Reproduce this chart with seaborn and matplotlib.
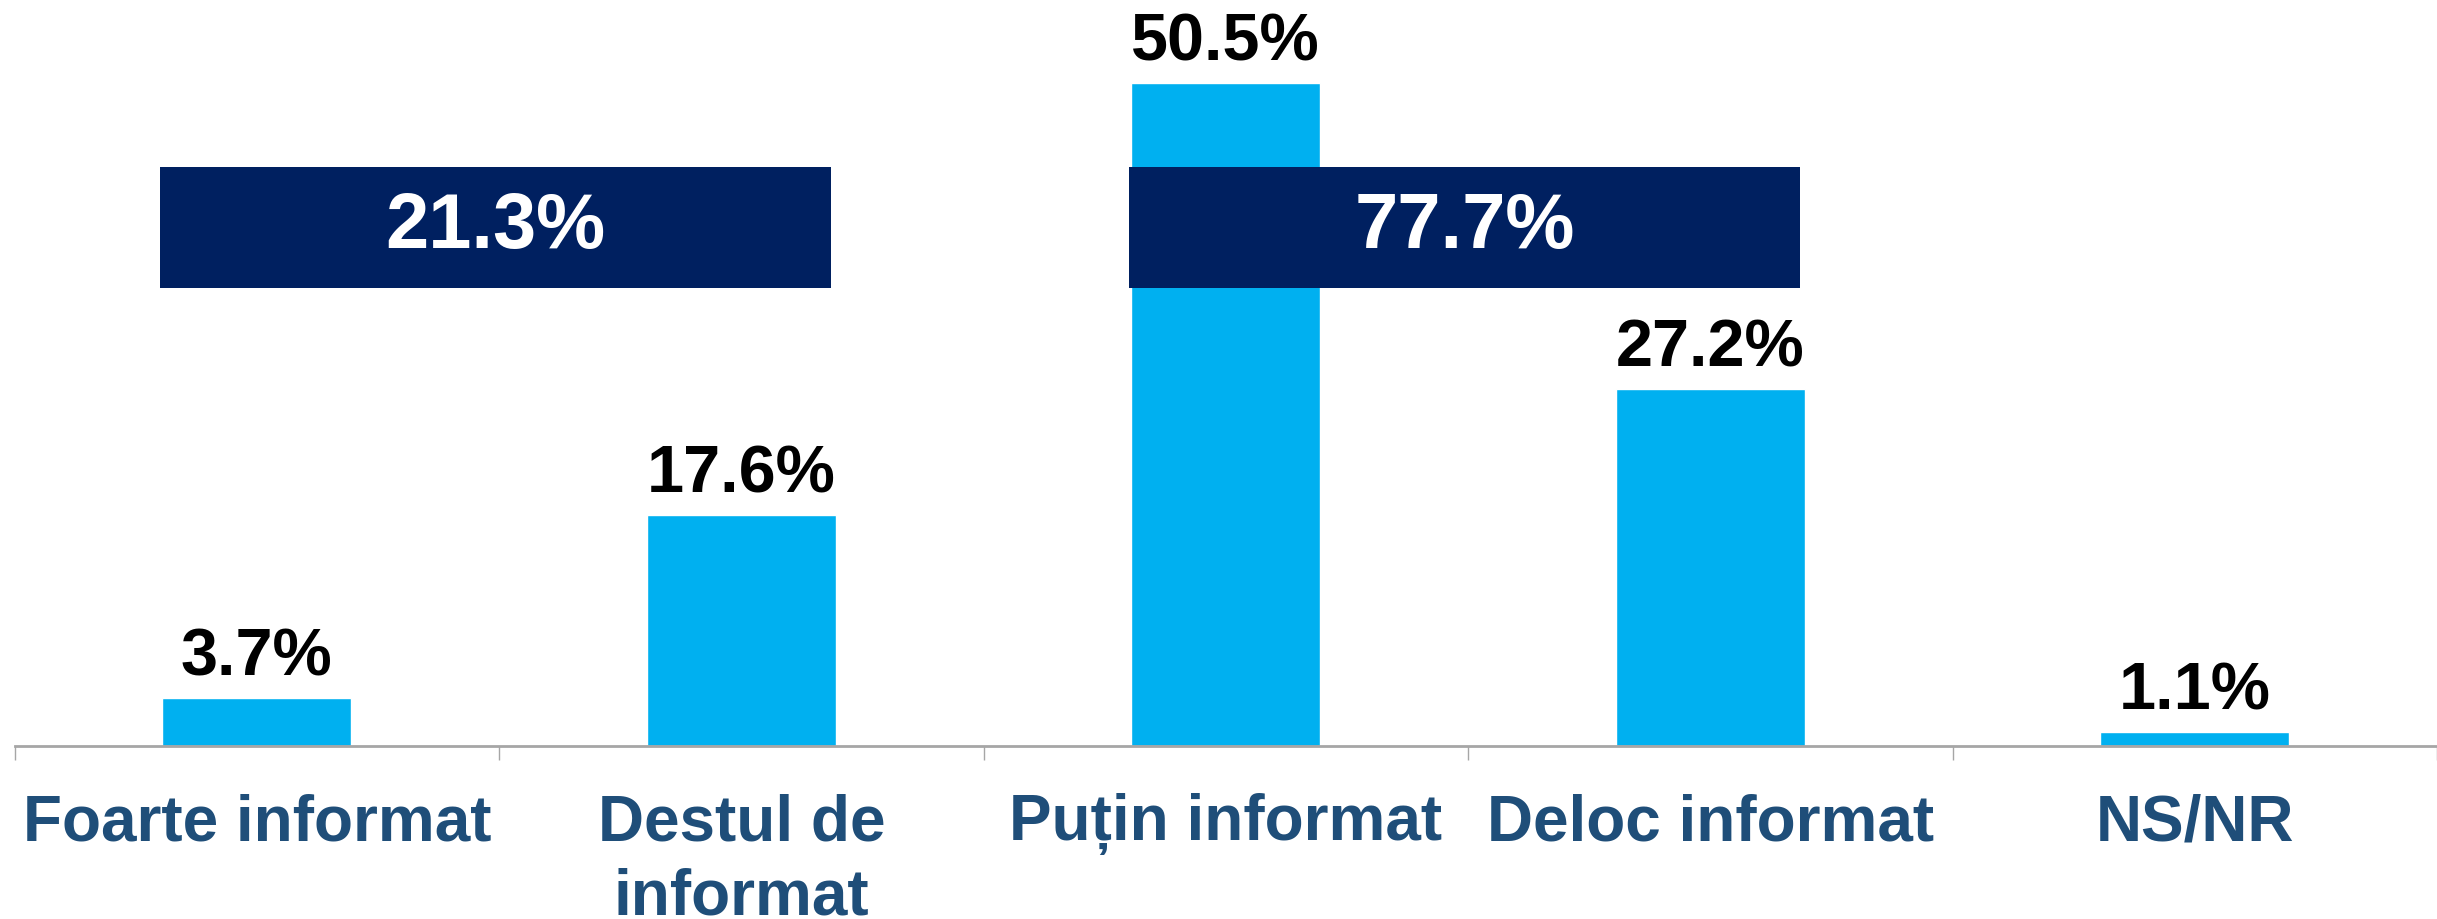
import pandas as pd
import seaborn as sns
import matplotlib.pyplot as plt
from matplotlib.patches import Rectangle

# date
categories = ['Foarte informat', 'Destul de\ninformat', 'Puțin informat', 'Deloc informat', 'NS/NR']
values = [3.7, 17.6, 50.5, 27.2, 1.1]
group_totals = ['21.3%', '77.7%']
group_spans = [(0, 1), (2, 3)]  # categorii acoperite de fiecare caseta

bar_color = '#00B0F0'
box_color = '#002060'
label_color = '#1F4E79'

sns.set_theme(style='white')
plt.rcParams['font.family'] = ['Liberation Sans', 'DejaVu Sans']

df = pd.DataFrame({'Categorie': categories, 'Procent': values})

fig = plt.figure(figsize=(24.37, 9.19), dpi=100)
ax = fig.add_axes([0.006, 0.188, 0.994, 0.812])

sns.barplot(data=df, x='Categorie', y='Procent', color=bar_color,
            saturation=1, width=0.39, ax=ax)

ax.set_xlim(-0.5, len(categories) - 0.5)
ax.set_ylim(0, 56.8)

# etichete valori
for i, v in enumerate(values):
    ax.annotate(f'{v:.1f}%', (i, v), xytext=(0, 6), textcoords='offset points',
                ha='center', va='bottom', fontsize=48, fontweight='bold', color='black')

# casete cu totaluri
for (a, b), txt in zip(group_spans, group_totals):
    left, right = a - 0.2, b + 0.185
    ax.add_patch(Rectangle((left, 34.9), right - left, 9.2, facecolor=box_color,
                           edgecolor='none', zorder=5))
    ax.text((left + right) / 2, 39.5, txt, ha='center', va='center', fontsize=56,
            fontweight='bold', color='white', zorder=6)

# axe
for s in ['top', 'right', 'left']:
    ax.spines[s].set_visible(False)
ax.spines['bottom'].set_color('#A6A6A6')
ax.spines['bottom'].set_linewidth(2)
ax.set_yticks([])
ax.set_xlabel('')
ax.set_ylabel('')
ax.set_xticks(range(len(categories)))
ax.set_xticklabels(categories, fontsize=46, fontweight='bold', color=label_color,
                   linespacing=1.3)
ax.tick_params(axis='x', which='major', length=0, pad=34)
ax.set_xticks([i - 0.5 for i in range(len(categories) + 1)], minor=True)
ax.tick_params(axis='x', which='minor', length=10, width=1, color='#A6A6A6', bottom=True)

plt.savefig('out.png', dpi=100)
